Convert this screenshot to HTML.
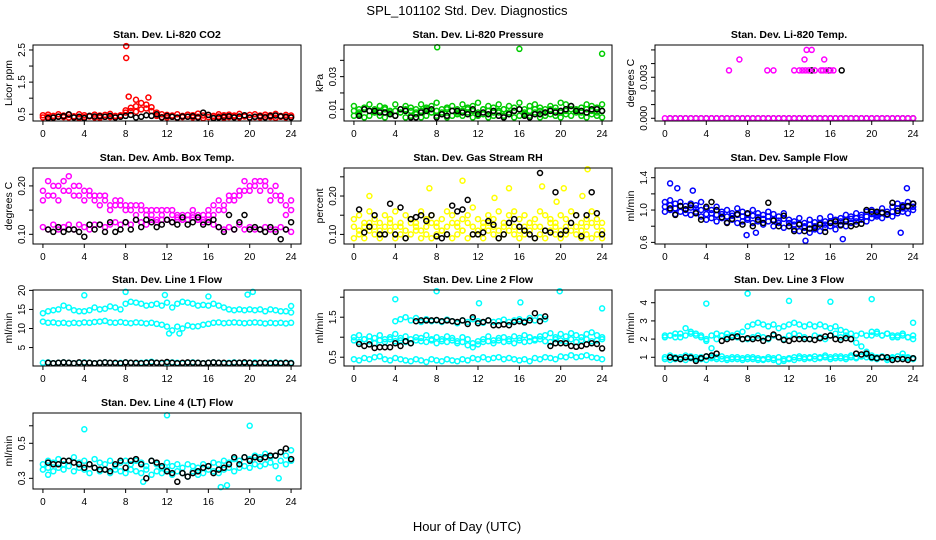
<!DOCTYPE html>
<html><head><meta charset="utf-8">
<style>
html,body{margin:0;padding:0;background:#fff;}
svg{display:block;font-family:"Liberation Sans",Arial,sans-serif;}
</style></head>
<body>
<svg id="chart" width="936" height="540" viewBox="0 0 936 540" xmlns="http://www.w3.org/2000/svg">
<text x="467" y="15" text-anchor="middle" font-size="13">SPL_101102  Std. Dev. Diagnostics</text>
<text x="467" y="531" text-anchor="middle" font-size="13">Hour of Day (UTC)</text>
</svg>
<script>
// shared x grids (hours)
const gridHours = [0,0.5,1,1.5,2,2.5,3,3.5,4,4.5,5,5.5,6,6.5,7,7.5,8,8.5,9,9.5,10,10.5,11,11.5,12,12.5,13,13.5,14,14.5,15,15.5,16,16.5,17,17.5,18,18.5,19,19.5,20,20.5,21,21.5,22,22.5,23,23.5,24];
const blackHours = [0.5,1,1.5,2,2.5,3,3.5,4,4.5,5,5.5,6,6.5,7,7.5,8,8.5,9,9.5,10,10.5,11,11.5,12,12.5,13,13.5,14,14.5,15,15.5,16,16.5,17,17.5,18,18.5,19,19.5,20,20.5,21,21.5,22,22.5,23,23.5,24];
const xTicks = [0,4,8,12,16,20,24];

// Panel 1: CO2
const co2A = [0.47,0.49,0.45,0.50,0.46,0.48,0.44,0.50,0.47,0.45,0.49,0.46,0.48,0.51,0.45,0.47,0.62,0.70,0.75,0.85,0.80,0.72,0.55,0.50,0.48,0.46,0.50,0.45,0.49,0.47,0.52,0.46,0.48,0.45,0.50,0.47,0.49,0.46,0.51,0.45,0.48,0.50,0.46,0.49,0.47,0.51,0.45,0.48,0.46];
const co2B = [0.40,0.42,0.39,0.43,0.41,0.40,0.42,0.38,0.41,0.43,0.40,0.39,0.42,0.41,0.40,0.43,0.55,0.60,0.58,0.65,0.68,0.60,0.45,0.41,0.40,0.42,0.39,0.41,0.43,0.40,0.42,0.38,0.41,0.40,0.43,0.39,0.41,0.42,0.40,0.43,0.39,0.41,0.40,0.42,0.41,0.39,0.42,0.40,0.41];
const co2Ox = [8.05,8.05,8.3,9.0,10.2];
const co2Oy = [2.62,2.25,1.05,0.95,1.02];
const co2K = [0.38,0.40,0.42,0.44,0.50,0.40,0.42,0.38,0.45,0.43,0.44,0.42,0.45,0.40,0.42,0.45,0.48,0.40,0.42,0.47,0.45,0.50,0.40,0.45,0.42,0.40,0.43,0.42,0.44,0.40,0.55,0.48,0.38,0.40,0.42,0.44,0.40,0.43,0.47,0.40,0.42,0.44,0.40,0.45,0.46,0.44,0.42,0.40];

// Panel 2: Pressure
const prA = [0.012,0.010,0.011,0.013,0.010,0.012,0.011,0.009,0.013,0.010,0.012,0.011,0.010,0.013,0.011,0.012,0.014,0.010,0.011,0.012,0.010,0.013,0.011,0.012,0.014,0.010,0.012,0.011,0.013,0.010,0.012,0.011,0.014,0.010,0.012,0.013,0.011,0.010,0.012,0.011,0.014,0.013,0.012,0.010,0.011,0.013,0.012,0.011,0.013];
const prB = [0.006,0.007,0.005,0.006,0.008,0.006,0.005,0.007,0.006,0.008,0.005,0.006,0.007,0.005,0.006,0.008,0.006,0.007,0.005,0.006,0.007,0.006,0.008,0.005,0.006,0.007,0.005,0.006,0.008,0.006,0.007,0.005,0.006,0.007,0.006,0.008,0.005,0.006,0.007,0.006,0.005,0.007,0.006,0.008,0.006,0.005,0.007,0.006,0.005];
const prC = [0.009,0.008,0.010,0.009,0.008,0.009,0.010,0.008,0.009,0.008,0.010,0.009,0.008,0.009,0.010,0.008,0.009,0.008,0.010,0.009,0.008,0.009,0.010,0.009,0.008,0.010,0.009,0.008,0.009,0.010,0.008,0.009,0.010,0.008,0.009,0.010,0.009,0.008,0.010,0.009,0.008,0.009,0.010,0.009,0.008,0.010,0.009,0.008,0.009];
const prOx = [8.05,16,24];
const prOy = [0.048,0.047,0.044];
const prK = [0.006,0.010,0.009,0.009,0.008,0.008,0.007,0.006,0.010,0.009,0.005,0.005,0.008,0.009,0.010,0.005,0.007,0.006,0.009,0.009,0.008,0.007,0.010,0.007,0.008,0.007,0.009,0.006,0.005,0.007,0.009,0.010,0.006,0.005,0.007,0.007,0.008,0.009,0.008,0.009,0.010,0.012,0.009,0.009,0.008,0.010,0.010,0.009];

// Panel 3: Li-820 Temp
const tempA = [0,0,0,0,0,0,0,0,0,0,0,0,0,0,0,0,0,0,0,0,0,0,0,0,0,0,0,0,0,0,0,0,0,0,0,0,0,0,0,0,0,0,0,0,0,0,0,0,0];
const tempOx = [6.2,9.9,10.5,12.5,13.0,13.3,13.6,13.9,14.5,15.1,15.3,15.6,16.0,16.3,7.2,13.5,15.4,13.7,14.2];
const tempOy = [0.0035,0.0035,0.0035,0.0035,0.0035,0.0035,0.0035,0.0035,0.0035,0.0035,0.0035,0.0035,0.0035,0.0035,0.0043,0.0043,0.0043,0.0050,0.0050];
const tempK = [0,0,0,0,0,0,0,0,0,0,0,0,0,0,0,0,0,0,0,0,0,0,0,0,0,0,0,0,0,0,0,0,0,0,0,0,0,0,0,0,0,0,0,0,0,0,0,0];
const tempKOx = [14.2,15.9,17.1];
const tempKOy = [0.0035,0.0035,0.0035];

// Panel 4: Amb. Box Temp
const boxA = [0.19,0.21,0.18,0.20,0.21,0.19,0.20,0.18,0.19,0.18,0.17,0.18,0.17,0.16,0.17,0.16,0.16,0.15,0.16,0.15,0.15,0.14,0.15,0.14,0.15,0.14,0.14,0.13,0.14,0.14,0.13,0.14,0.15,0.14,0.15,0.16,0.17,0.18,0.18,0.19,0.20,0.20,0.21,0.20,0.19,0.18,0.17,0.16,0.15];
const boxB = [0.17,0.18,0.20,0.17,0.19,0.22,0.18,0.20,0.17,0.19,0.18,0.16,0.18,0.15,0.16,0.17,0.15,0.16,0.14,0.16,0.14,0.15,0.13,0.15,0.13,0.15,0.13,0.14,0.13,0.15,0.14,0.13,0.14,0.16,0.17,0.15,0.18,0.17,0.19,0.21,0.19,0.21,0.19,0.21,0.17,0.20,0.18,0.14,0.17];
const boxC = [0.115,0.11,0.12,0.11,0.115,0.12,0.11,0.12,0.115,0.11,0.12,0.12,0.115,0.12,0.125,0.12,0.125,0.12,0.13,0.125,0.12,0.13,0.125,0.13,0.13,0.125,0.135,0.13,0.13,0.135,0.13,0.125,0.13,0.12,0.115,0.11,0.115,0.11,0.12,0.11,0.115,0.11,0.11,0.115,0.11,0.11,0.115,0.11,0.105];
const boxK = [0.11,0.105,0.115,0.105,0.11,0.11,0.105,0.095,0.12,0.11,0.12,0.105,0.125,0.105,0.11,0.125,0.11,0.13,0.115,0.13,0.125,0.115,0.12,0.13,0.125,0.12,0.135,0.12,0.125,0.135,0.12,0.125,0.13,0.115,0.105,0.14,0.11,0.125,0.14,0.11,0.115,0.11,0.105,0.115,0.105,0.09,0.11,0.125];

// Panel 5: Gas Stream RH
const rhA = [0.09,0.10,0.09,0.11,0.10,0.09,0.10,0.11,0.09,0.10,0.09,0.10,0.11,0.09,0.10,0.09,0.10,0.11,0.10,0.09,0.10,0.11,0.09,0.10,0.10,0.09,0.11,0.10,0.09,0.10,0.11,0.10,0.09,0.10,0.11,0.09,0.10,0.09,0.11,0.10,0.09,0.10,0.11,0.10,0.09,0.10,0.09,0.10,0.09];
const rhB = [0.14,0.15,0.13,0.16,0.14,0.13,0.15,0.14,0.16,0.13,0.15,0.14,0.13,0.16,0.14,0.15,0.13,0.14,0.16,0.15,0.13,0.14,0.15,0.17,0.14,0.13,0.15,0.14,0.16,0.13,0.15,0.16,0.14,0.15,0.13,0.14,0.16,0.15,0.14,0.13,0.15,0.14,0.16,0.15,0.13,0.14,0.16,0.14,0.13];
const rhC = [0.12,0.11,0.12,0.13,0.12,0.11,0.12,0.13,0.12,0.12,0.11,0.13,0.12,0.11,0.12,0.13,0.12,0.11,0.12,0.13,0.12,0.11,0.13,0.12,0.11,0.12,0.13,0.12,0.11,0.12,0.13,0.12,0.11,0.12,0.13,0.12,0.12,0.11,0.13,0.12,0.11,0.12,0.13,0.12,0.11,0.12,0.13,0.12,0.11];
const rhOx = [1.5,7.3,10.5,13.6,15.0,18.2,19.6,20.3,22.1,22.6];
const rhOy = [0.20,0.22,0.24,0.195,0.22,0.225,0.185,0.22,0.20,0.27];
const rhK = [0.165,0.105,0.12,0.15,0.10,0.10,0.18,0.10,0.17,0.09,0.14,0.145,0.15,0.135,0.15,0.095,0.09,0.10,0.175,0.16,0.165,0.19,0.10,0.10,0.105,0.135,0.125,0.09,0.10,0.13,0.14,0.12,0.11,0.10,0.09,0.26,0.11,0.105,0.21,0.10,0.11,0.13,0.15,0.095,0.15,0.21,0.155,0.10];

// Panel 6: Sample Flow
const sfA = [1.10,1.12,1.08,1.10,1.05,1.08,1.06,1.10,1.02,1.00,1.04,0.98,1.00,0.96,1.02,0.98,0.95,1.00,0.96,0.94,0.98,0.95,0.92,0.96,0.88,0.86,0.90,0.84,0.88,0.85,0.90,0.86,0.92,0.88,0.90,0.94,0.92,0.96,0.94,0.98,1.00,0.96,1.02,0.98,1.04,1.08,1.06,1.10,1.08];
const sfB = [0.98,1.00,0.95,0.98,0.96,0.94,0.98,0.92,0.88,0.90,0.86,0.90,0.85,0.88,0.84,0.86,0.88,0.84,0.86,0.82,0.86,0.80,0.84,0.78,0.80,0.76,0.74,0.78,0.72,0.76,0.74,0.78,0.80,0.76,0.82,0.80,0.84,0.86,0.88,0.86,0.90,0.92,0.90,0.94,0.92,0.96,0.98,0.96,1.00];
const sfC = [1.04,1.06,1.02,1.05,1.00,1.03,1.02,1.00,0.95,0.96,0.94,0.95,0.92,0.93,0.94,0.92,0.90,0.93,0.91,0.89,0.92,0.88,0.87,0.89,0.84,0.82,0.83,0.80,0.82,0.80,0.84,0.82,0.86,0.83,0.86,0.88,0.89,0.90,0.91,0.92,0.95,0.94,0.96,0.95,0.98,1.02,1.02,1.04,1.04];
const sfOx = [0.5,1.2,2.7,7.9,8.8,13.6,17.2,23.4,22.8];
const sfOy = [1.33,1.27,1.24,0.69,0.72,0.62,0.64,1.27,0.72];
const sfK = [1.02,0.94,1.05,1.01,1.06,0.96,0.88,1.04,1.10,1.00,0.91,0.84,0.89,0.95,0.82,0.96,0.80,0.88,0.84,1.09,0.87,0.80,0.93,0.80,0.74,0.82,0.74,0.77,0.78,0.82,0.73,0.84,0.86,0.81,0.86,0.80,0.82,0.83,1.00,0.98,0.98,0.97,0.95,1.09,0.99,1.04,1.05,1.08];

// Panel 7: Line 1 Flow
const l1A = [14.0,14.5,14.8,15.0,16.0,15.5,14.8,14.5,14.5,14.8,15.5,15.0,15.2,15.8,15.5,15.0,16.5,17.0,16.8,16.5,16.0,16.2,16.5,16.0,16.8,15.5,16.5,17.0,16.8,16.5,16.0,16.2,16.0,16.5,16.0,15.5,15.0,14.8,15.0,14.8,15.0,14.8,15.0,14.5,15.0,14.8,14.5,14.5,14.2];
const l1B = [11.8,11.5,11.6,11.4,11.5,11.3,11.5,11.4,11.6,11.5,11.7,11.8,12.0,11.6,11.5,11.7,11.5,11.4,11.6,11.5,11.3,11.5,11.2,11.0,10.5,9.5,10.5,10.0,10.8,10.5,10.6,11.0,11.2,11.5,11.6,11.4,11.5,11.6,11.5,11.4,11.5,11.6,11.5,11.3,11.5,11.4,11.5,11.3,11.5];
const l1C = [1.0,1.1,0.9,1.0,1.1,1.0,0.9,1.0,1.1,1.0,0.9,1.0,1.1,1.0,0.9,1.0,1.1,1.0,0.9,1.0,1.1,1.3,1.0,0.9,1.0,1.1,1.0,0.9,1.0,1.1,1.0,0.9,1.0,1.1,1.0,0.9,1.0,1.1,1.0,0.9,1.0,1.1,1.0,0.9,1.0,1.1,1.0,0.9,1.0];
const l1Ox = [4,8,11.8,16,19.8,20.3,24,12.2,13.2];
const l1Oy = [18.7,19.6,18.8,18.4,18.9,19.6,15.9,8.7,8.7];
const l1K = [1.0,0.9,1.0,1.1,1.0,0.9,1.1,1.0,1.0,0.9,1.0,1.1,1.0,1.0,0.9,1.1,1.0,1.0,0.9,1.0,1.1,1.0,1.0,1.2,1.0,0.9,1.0,1.1,1.0,1.0,0.9,1.0,1.1,1.0,1.0,0.9,1.0,1.0,1.1,1.0,0.9,1.0,1.0,0.9,1.0,0.9,1.0,0.9];

// Panel 8: Line 2 Flow
const l2A = [null,null,null,null,null,null,null,null,1.40,1.45,1.50,1.42,1.48,1.38,1.45,1.40,1.42,1.38,1.44,1.40,1.35,1.42,1.38,1.45,1.40,1.36,1.42,1.38,1.40,1.44,1.38,1.42,1.45,1.40,1.48,1.42,1.50,1.45,null,null,null,null,null,null,null,null,null,null,null];
const l2B = [1.00,1.05,0.95,1.02,0.98,1.05,0.95,1.00,1.08,0.98,1.02,0.95,1.00,0.98,1.05,0.92,1.00,0.95,1.02,0.98,0.90,1.00,0.95,0.85,0.90,0.95,1.02,0.92,0.98,1.00,0.95,1.02,0.98,1.05,1.00,0.95,1.02,1.05,1.10,1.00,1.08,1.02,1.10,1.05,1.00,1.08,1.12,1.05,1.00];
const l2B2 = [0.92,0.88,0.95,0.90,0.85,0.92,0.88,0.95,0.90,0.92,0.88,0.85,0.92,0.90,0.88,0.95,0.85,0.90,0.88,0.92,0.85,0.88,0.80,0.75,0.82,0.88,0.90,0.85,0.92,0.88,0.90,0.85,0.92,0.88,0.90,0.92,0.95,0.90,0.88,0.95,0.92,0.90,0.95,0.88,0.92,0.95,0.90,0.92,0.95];
const l2C = [0.45,0.42,0.48,0.45,0.50,0.52,0.45,0.42,0.48,0.45,0.42,0.40,0.45,0.42,0.38,0.45,0.42,0.40,0.45,0.42,0.40,0.45,0.42,0.48,0.45,0.50,0.45,0.48,0.50,0.45,0.48,0.45,0.42,0.45,0.40,0.48,0.45,0.50,0.48,0.45,0.52,0.50,0.55,0.50,0.52,0.55,0.50,0.48,0.45];
const l2Ox = [4,8,12.1,16.1,19.9,24];
const l2Oy = [1.95,2.15,1.85,1.87,2.15,1.72];
const l2K = [0.83,0.78,0.82,0.73,0.75,0.75,0.75,0.85,0.78,0.90,0.85,1.40,1.42,1.42,1.42,1.43,1.40,1.42,1.40,1.38,1.42,1.33,1.50,1.35,1.38,1.42,1.30,1.30,1.32,1.30,1.38,1.40,1.37,1.42,1.60,1.40,1.52,0.78,0.85,0.85,0.85,0.78,0.76,0.78,0.82,0.85,0.83,0.72];

// Panel 9: Line 3 Flow
const l3A = [2.2,2.2,2.1,2.3,2.6,2.3,2.2,2.1,2.0,2.2,2.3,2.2,2.3,2.2,2.3,2.4,2.7,2.8,2.9,2.8,2.7,2.8,2.6,2.7,2.8,2.9,2.8,2.7,2.8,2.7,2.8,2.7,2.6,2.7,2.5,2.4,2.3,2.2,2.3,2.2,2.4,2.3,2.2,2.3,2.2,2.1,2.2,2.1,2.0];
const l3B = [2.1,2.2,2.3,2.1,2.2,2.4,2.3,2.2,1.9,1.5,2.0,2.2,2.1,2.2,2.1,2.0,2.0,2.1,2.2,2.1,2.0,2.2,2.1,2.0,2.2,2.3,2.2,2.1,2.0,2.2,2.1,2.0,2.2,2.3,2.1,2.2,2.0,1.8,1.6,1.3,2.2,2.4,2.2,2.3,2.1,2.2,2.3,2.1,2.2];
const l3C = [1.0,1.1,0.9,1.0,1.1,0.95,1.0,0.9,1.05,0.95,1.0,0.9,0.95,1.0,0.9,0.95,1.0,0.9,0.95,0.85,0.9,0.95,1.0,0.8,0.9,1.0,1.05,1.0,0.95,1.05,1.0,1.1,1.0,0.95,1.05,1.0,1.1,1.0,1.05,1.15,1.1,1.0,1.05,0.95,1.0,1.05,1.2,1.0,0.95];
const l3C2 = [0.9,0.85,1.0,0.9,0.85,1.05,0.9,1.0,0.85,1.0,0.9,1.05,0.85,0.9,1.0,0.85,0.9,1.0,0.85,0.9,1.0,0.85,0.75,0.9,0.95,0.85,0.95,0.9,1.0,0.9,0.95,1.0,0.9,1.05,0.95,0.9,1.0,0.95,1.05,1.0,0.95,0.9,1.0,0.85,0.95,0.9,1.0,0.95,0.9];
const l3Ox = [4,8,12,16,20,24];
const l3Oy = [3.95,4.5,4.1,4.05,4.2,2.9];
const l3K = [1.0,0.95,0.9,1.0,0.98,0.8,0.95,1.05,1.1,1.2,1.9,2.0,2.1,2.15,2.0,2.05,2.0,2.05,1.9,2.05,2.25,2.1,1.95,1.9,2.0,2.0,2.0,2.0,1.95,2.05,2.15,2.2,2.0,1.95,2.05,2.0,1.2,1.15,1.2,1.0,0.95,1.0,1.0,0.85,0.9,0.9,0.85,0.95];

// Panel 10: Line 4 (LT) Flow
const l4A = [0.38,0.40,0.39,0.41,0.38,0.40,0.42,0.39,0.40,0.38,0.41,0.39,0.38,0.40,0.37,0.39,0.40,0.38,0.40,0.39,0.37,0.40,0.38,0.36,0.39,0.37,0.38,0.36,0.38,0.37,0.36,0.38,0.37,0.39,0.38,0.40,0.39,0.41,0.40,0.42,0.41,0.43,0.42,0.44,0.42,0.43,0.45,0.43,0.46];
const l4B = [0.35,0.36,0.34,0.36,0.35,0.37,0.34,0.36,0.35,0.33,0.36,0.34,0.35,0.33,0.35,0.34,0.33,0.35,0.34,0.33,0.35,0.32,0.34,0.33,0.35,0.32,0.34,0.33,0.31,0.34,0.32,0.33,0.35,0.34,0.33,0.35,0.36,0.34,0.36,0.37,0.36,0.38,0.37,0.38,0.39,0.37,0.40,0.38,0.40];
const l4Ox = [0.5,4,12,20,9.7,17.2,17.8,22.8];
const l4Oy = [0.32,0.58,0.66,0.60,0.28,0.25,0.26,0.30];
const l4K = [0.39,0.38,0.38,0.40,0.40,0.39,0.38,0.36,0.38,0.36,0.35,0.35,0.34,0.38,0.40,0.36,0.40,0.41,0.38,0.30,0.40,0.39,0.37,0.34,0.33,0.28,0.33,0.31,0.33,0.34,0.36,0.37,0.33,0.35,0.36,0.38,0.42,0.38,0.42,0.40,0.42,0.41,0.42,0.43,0.43,0.45,0.47,0.41];

// y tick values and labels per panel
const p1Ticks = [0.5,1.0,1.5,2.0,2.5];      const p1Labels = ["0.5","","1.5","","2.5"];
const p2Ticks = [0.01,0.02,0.03,0.04];      const p2Labels = ["0.01","","0.03",""];
const p3Ticks = [0,0.001,0.002,0.003,0.004,0.005]; const p3Labels = ["0.000","","","0.003","",""];
const p4Ticks = [0.10,0.15,0.20];           const p4Labels = ["0.10","","0.20"];
const p5Ticks = [0.10,0.15,0.20,0.25];      const p5Labels = ["0.10","","0.20",""];
const p6Ticks = [0.6,0.8,1.0,1.2,1.4];      const p6Labels = ["0.6","","1.0","","1.4"];
const p7Ticks = [5,10,15,20];               const p7Labels = ["5","10","15","20"];
const p8Ticks = [0.5,1.0,1.5,2.0];          const p8Labels = ["0.5","","1.5",""];
const p9Ticks = [1,2,3,4];                  const p9Labels = ["1","2","3","4"];
const p10Ticks = [0.3,0.4,0.5,0.6];         const p10Labels = ["0.3","","0.5",""];

const NS = "http://www.w3.org/2000/svg";
const svg = document.getElementById("chart");
function mk(tag, attrs, parent) {
  const e = document.createElementNS(NS, tag);
  for (const k in attrs) e.setAttribute(k, attrs[k]);
  (parent || svg).appendChild(e);
  return e;
}

const colLeft = [33, 344, 655];
const rowTop = [45, 168, 290, 413];
const W = 268, H = 76;

const panels = [
  {name:"co2", title:"Stan. Dev. Li-820 CO2", ylab:"Licor ppm", col:0, row:0, ymin:0.29, ymax:2.655, color:"#ff0000", ticks:p1Ticks, labels:p1Labels,
   series:[[gridHours,co2A],[gridHours,co2B],[co2Ox,co2Oy]], black:[[blackHours,co2K]]},
  {name:"pressure", title:"Stan. Dev. Li-820 Pressure", ylab:"kPa", col:1, row:0, ymin:0.0028, ymax:0.0494, color:"#00cc00", ticks:p2Ticks, labels:p2Labels,
   series:[[gridHours,prA],[gridHours,prB],[gridHours,prC],[prOx,prOy]], black:[[blackHours,prK]]},
  {name:"li820-temp", title:"Stan. Dev. Li-820 Temp.", ylab:"degrees C", col:2, row:0, ymin:-0.0002, ymax:0.00536, color:"#ff00ff", ticks:p3Ticks, labels:p3Labels,
   series:[[gridHours,tempA],[tempOx,tempOy]], black:[[blackHours,tempK],[tempKOx,tempKOy]], blackFirst:true},
  {name:"box-temp", title:"Stan. Dev. Amb. Box Temp.", ylab:"degrees C", col:0, row:1, ymin:0.08, ymax:0.237, color:"#ff00ff", ticks:p4Ticks, labels:p4Labels,
   series:[[gridHours,boxA],[gridHours,boxB],[gridHours,boxC]], black:[[blackHours,boxK]]},
  {name:"gas-rh", title:"Stan. Dev. Gas Stream RH", ylab:"percent", col:1, row:1, ymin:0.075, ymax:0.273, color:"#ffff00", ticks:p5Ticks, labels:p5Labels,
   series:[[gridHours,rhA],[gridHours,rhB],[gridHours,rhC],[rhOx,rhOy]], black:[[blackHours,rhK]]},
  {name:"sample-flow", title:"Stan. Dev. Sample Flow", ylab:"ml/min", col:2, row:1, ymin:0.58, ymax:1.52, color:"#0000ff", ticks:p6Ticks, labels:p6Labels,
   series:[[gridHours,sfA],[gridHours,sfB],[gridHours,sfC],[sfOx,sfOy]], black:[[blackHours,sfK]]},
  {name:"line1-flow", title:"Stan. Dev. Line 1 Flow", ylab:"ml/min", col:0, row:2, ymin:0.16, ymax:20.1, color:"#00ffff", ticks:p7Ticks, labels:p7Labels,
   series:[[gridHours,l1A],[gridHours,l1B],[gridHours,l1C],[l1Ox,l1Oy]], black:[[blackHours,l1K]]},
  {name:"line2-flow", title:"Stan. Dev. Line 2 Flow", ylab:"ml/min", col:1, row:2, ymin:0.28, ymax:2.18, color:"#00ffff", ticks:p8Ticks, labels:p8Labels,
   series:[[gridHours,l2A],[gridHours,l2B],[gridHours,l2B2],[gridHours,l2C],[l2Ox,l2Oy]], black:[[blackHours,l2K]]},
  {name:"line3-flow", title:"Stan. Dev. Line 3 Flow", ylab:"ml/min", col:2, row:2, ymin:0.52, ymax:4.7, color:"#00ffff", ticks:p9Ticks, labels:p9Labels,
   series:[[gridHours,l3A],[gridHours,l3B],[gridHours,l3C],[gridHours,l3C2],[l3Ox,l3Oy]], black:[[blackHours,l3K]]},
  {name:"line4-flow", title:"Stan. Dev. Line 4 (LT) Flow", ylab:"ml/min", col:0, row:3, ymin:0.239, ymax:0.673, color:"#00ffff", ticks:p10Ticks, labels:p10Labels,
   series:[[gridHours,l4A],[gridHours,l4B],[l4Ox,l4Oy]], black:[[blackHours,l4K]]}
];

panels.forEach(p => {
  const L = colLeft[p.col], T = rowTop[p.row];
  const g = mk("g", {});
  
  
  const xs = v => L + (v + 0.96) / 25.92 * W;
  const ys = v => T + H - (v - p.ymin) / (p.ymax - p.ymin) * H;

  const t = mk("text", {x: L + W/2, y: T - 7, "text-anchor":"middle", "font-size":"10.5", "font-weight":"bold"}, g);
  t.textContent = p.title;
  
  

  const yl = mk("text", {x: 0, y: 0, "text-anchor":"middle", "font-size":"10.5", transform:`translate(${L-21},${T+H/2}) rotate(-90)`}, g);
  yl.textContent = p.ylab;
  
  

  function drawColored() {
    const pts = mk("g", {fill:"none", stroke:p.color, "stroke-width":"1.5"}, g);
    
    
    p.series.forEach(s => {
      const n = Math.min(s[0].length, s[1].length);
      for (let i = 0; i < n; i++) {
        if (s[1][i] === null) continue;
        const c = mk("circle", {cx: xs(s[0][i]).toFixed(1), cy: ys(s[1][i]).toFixed(1), r: "2.5"}, pts);
        
        
      }
    });
  }
  function drawBlack() {
    const bk = mk("g", {fill:"none", stroke:"#000", "stroke-width":"1.5"}, g);
    
    
    p.black.forEach(s => {
      const n = Math.min(s[0].length, s[1].length);
      for (let i = 0; i < n; i++) {
        const c = mk("circle", {cx: xs(s[0][i]).toFixed(1), cy: ys(s[1][i]).toFixed(1), r: "2.5"}, bk);
        
        
      }
    });
  }
  if (p.blackFirst) { drawBlack(); drawColored(); } else { drawColored(); drawBlack(); }

  const fr = mk("rect", {x:L, y:T, width:W, height:H, fill:"none", stroke:"#000", "stroke-width":"1"}, g);
  
  

  const xa = mk("g", {}, g);
  
  
  mk("line", {x1: xs(xTicks[0]), x2: xs(xTicks[xTicks.length-1]), y1: T+H, y2: T+H, stroke:"#000"}, xa);
  xTicks.forEach(v => {
    mk("line", {x1: xs(v), x2: xs(v), y1: T+H, y2: T+H+4, stroke:"#000"}, xa);
    const tx = mk("text", {x: xs(v), y: T+H+16, "text-anchor":"middle", "font-size":"10"}, xa);
    tx.textContent = v;
    
    
  });

  const ya = mk("g", {}, g);
  
  
  p.ticks.forEach((v, i) => {
    mk("line", {x1: L-4, x2: L, y1: ys(v), y2: ys(v), stroke:"#000"}, ya);
    if (p.labels[i]) {
      const ty = mk("text", {x:0, y:0, "text-anchor":"middle", "font-size":"10", transform:`translate(${L-8},${ys(v)}) rotate(-90)`}, ya);
      ty.textContent = p.labels[i];
      
      
    }
  });
});
</script>
</body></html>
